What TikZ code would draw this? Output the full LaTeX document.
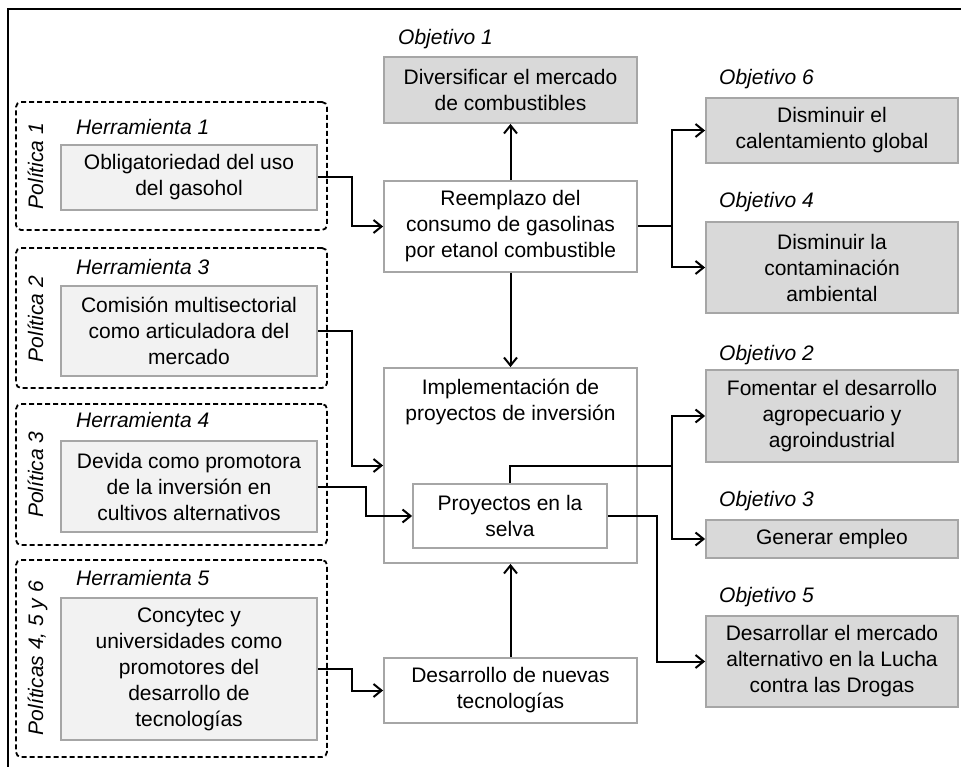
\documentclass[tikz,border=0pt]{standalone}
\usepackage{fontspec}
\setmainfont{Liberation Sans}
\usetikzlibrary{arrows.meta}
\definecolor{herrfill}{HTML}{F2F2F2}
\definecolor{objfill}{HTML}{D9D9D9}
\definecolor{edgegray}{HTML}{A6A6A6}
\newcommand{\diagfont}{\fontsize{21}{26}\selectfont}
\tikzset{
  procbox/.style = {draw=edgegray, line width=1.8pt, fill=white, align=center, inner sep=0pt},
  herrbox/.style = {procbox, fill=herrfill, minimum width=256pt},
  objbox/.style  = {procbox, fill=objfill, minimum width=252pt},
  polbox/.style  = {draw, line width=1.8pt, dash pattern=on 5pt off 3pt, rounded corners=5pt,
                    minimum width=311pt},
  tag/.style     = {font=\diagfont\itshape, anchor=base west, inner sep=0pt},
  poltag/.style  = {font=\diagfont\itshape, rotate=90, anchor=base, inner sep=0pt},
  link/.style    = {line width=2pt, -{Straight Barb[length=8pt,width=13pt]}},
}
\begin{document}
\begin{tikzpicture}[x=1pt,y=-1pt,font=\diagfont]
  \useasboundingbox (0,0) rectangle (961,767);
  \draw[line width=2.5pt] (8,767) -- (8,9) -- (961,9);
  % politicas y herramientas
  \node[polbox, minimum height=128pt] (pol1) at (171.5,166) {};
  \node[polbox, minimum height=140pt] (pol2) at (171.5,318) {};
  \node[polbox, minimum height=141pt] (pol3) at (171.5,474.5) {};
  \node[polbox, minimum height=197pt] (pol4) at (171.5,658.5) {};
  \node[poltag] at (43,166) {Política 1};
  \node[poltag] at (43,319) {Política 2};
  \node[poltag] at (43,474.5) {Política 3};
  \node[poltag] at (43,658) {Políticas 4, 5 y 6};
  \node[tag] at (76,134.5) {Herramienta 1};
  \node[tag] at (76,274.5) {Herramienta 3};
  \node[tag] at (76,427.5) {Herramienta 4};
  \node[tag] at (76,585.5) {Herramienta 5};
  \node[herrbox, minimum height=65pt] (h1) at (189,177.5) {Obligatoriedad del uso\\del gasohol};
  \node[herrbox, minimum height=90pt] (h3) at (189,331) {Comisión multisectorial\\como articuladora del\\mercado};
  \node[herrbox, minimum height=91pt] (h4) at (189,486.5) {Devida como promotora\\de la inversión en\\cultivos alternativos};
  \node[herrbox, minimum height=142pt] (h5) at (189,669) {Concytec y\\universidades como\\promotores del\\desarrollo de\\tecnologías};
  % columna central
  \node[tag] at (398,45) {Objetivo 1};
  \node[objbox, minimum width=253pt, minimum height=66pt] (obj1) at (510.5,90) {Diversificar el mercado\\de combustibles};
  \node[procbox, minimum width=253pt, minimum height=91pt] (reem) at (510.5,226.5) {Reemplazo del\\consumo de gasolinas\\por etanol combustible};
  \node[procbox, minimum width=253pt, minimum height=195pt] (impl) at (510.5,465.5) {};
  \node[anchor=north, align=center, inner sep=0pt] (impltxt) at ([yshift=-12pt]impl.north) {Implementación de\\proyectos de inversión};
  \node[procbox, minimum width=194pt, minimum height=64pt] (selva) at (510,516) {Proyectos en la\\selva};
  \node[procbox, minimum width=253pt, minimum height=65pt] (tecno) at (510.5,690.5) {Desarrollo de nuevas\\tecnologías};
  % objetivos
  \node[tag] at (719,85) {Objetivo 6};
  \node[tag] at (719,208) {Objetivo 4};
  \node[tag] at (719,360) {Objetivo 2};
  \node[tag] at (719,506) {Objetivo 3};
  \node[tag] at (719,602.5) {Objetivo 5};
  \node[objbox, minimum height=65pt] (obj6) at (832,130.5) {Disminuir el\\calentamiento global};
  \node[objbox, minimum height=91pt] (obj4) at (832,267.5) {Disminuir la\\contaminación\\ambiental};
  \node[objbox, minimum height=92pt] (obj2) at (832,416) {Fomentar el desarrollo\\agropecuario y\\agroindustrial};
  \node[objbox, minimum height=38pt] (obj3) at (832,539) {Generar empleo};
  \node[objbox, minimum height=91pt] (obj5) at (832,661.5) {Desarrollar el mercado\\alternativo en la Lucha\\contra las Drogas};
  % conexiones
  \draw[link] (h1.east) -- ++(34,0) |- (reem.west);
  \draw[link] (h3.east) -- ++(34,0) |- (impl.west);
  \draw[link] (h4.east) -- ++(48,0) |- (selva.west);
  \draw[link] (h5.east) -- ++(34,0) |- (tecno.west);
  \draw[link] (reem.north) -- (obj1.south);
  \draw[link] (reem.south) -- (impl.north);
  \draw[link] (tecno.north) -- (impl.south);
  \draw[line width=2pt] (reem.east) -- ++(34,0) coordinate (fork1);
  \draw[link] (fork1) |- (obj6.west);
  \draw[link] (fork1) |- (obj4.west);
  \coordinate (fork2) at (fork1 |- impl.west);
  \draw[line width=2pt] (selva.north) |- (fork2);
  \draw[link] (fork2) |- (obj2.west);
  \draw[link] (fork2) |- (obj3.west);
  \draw[link] (selva.east) -- ++(49,0) |- (obj5.west);
\end{tikzpicture}
\end{document}
